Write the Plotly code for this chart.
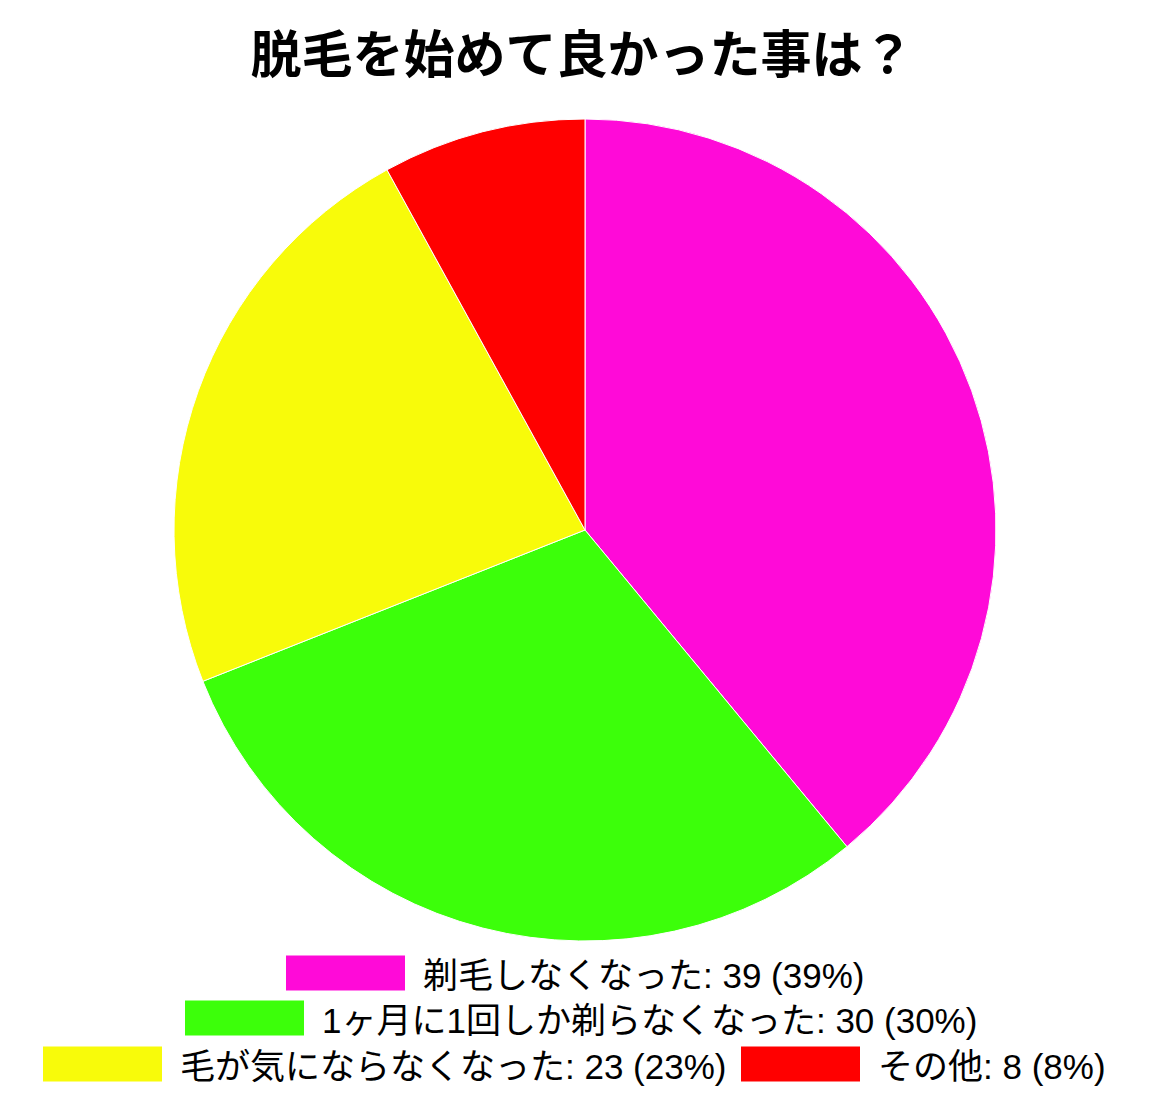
import plotly.graph_objects as go

title = "脱毛を始めて良かった事は？"
labels = ["剃毛しなくなった", "1ヶ月に1回しか剃らなくなった", "毛が気にならなくなった", "その他"]
values = [39, 30, 23, 8]
colors = ["#FF0AD8", "#3CFF0A", "#F8FB0A", "#FF0000"]

# page is 1170x1111; the plot div sits at (8, 8) inside the page body
PAGE_W, PAGE_H = 1170, 1111
OFF = 8
W, H = PAGE_W - OFF, PAGE_H - OFF
FONT = "Liberation Sans, Noto Sans CJK JP"


def px(x):
    return (x - OFF) / W


def py(y):
    return (PAGE_H - y) / H


fig = go.Figure()
fig.add_trace(go.Pie(
    labels=labels, values=values, sort=False, direction="clockwise", rotation=0,
    marker=dict(colors=colors, line=dict(color="white", width=1)),
    textinfo="none", hoverinfo="label+value+percent", showlegend=False,
    domain=dict(x=[px(174), px(996)], y=[py(941), py(119)]),
))

total = sum(values)
rows = [[0], [1], [2, 3]]
row_pos = [
    [(286, 973)],
    [(185, 1018)],
    [(43, 1064), (741, 1064)],
]
sw_w, sw_h = 119, 35
shapes = []
annotations = []
for r, items in enumerate(rows):
    for k, i in enumerate(items):
        x0, yc = row_pos[r][k]
        shapes.append(dict(type="rect", xref="paper", yref="paper",
                           x0=px(x0), x1=px(x0 + sw_w),
                           y0=py(yc + sw_h / 2), y1=py(yc - sw_h / 2),
                           fillcolor=colors[i], line=dict(width=0)))
        pct = round(values[i] / total * 100)
        annotations.append(dict(xref="paper", yref="paper",
                                x=px(x0 + sw_w + 16), y=py(yc + 2),
                                xanchor="left", yanchor="middle", showarrow=False,
                                text=f"{labels[i]}: {values[i]} ({pct}%)",
                                font=dict(family=FONT, size=35, color="black")))

fig.update_layout(
    width=W, height=H,
    margin=dict(l=0, r=0, t=0, b=0),
    paper_bgcolor="white", plot_bgcolor="white",
    title=dict(text=f"<b>{title}</b>", x=px(582), xanchor="center", y=py(55), yanchor="middle",
               font=dict(family="Noto Sans CJK JP", size=51, color="black")),
    shapes=shapes, annotations=annotations,
)

fig.write_html("out.html")
